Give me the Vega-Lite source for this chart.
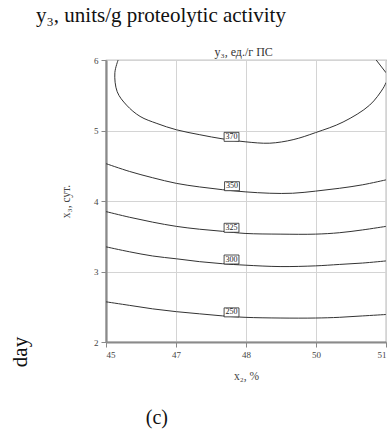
{
  "$schema": "https://vega.github.io/schema/vega-lite/v6.json",
  "width": 280,
  "height": 282,
  "autosize": {"type": "none"},
  "padding": {"left": 106, "top": 60, "right": 2, "bottom": 89},
  "background": "white",
  "config": {
    "view": {"stroke": "#8a8a8a", "strokeWidth": 1.2},
    "font": "Liberation Serif",
    "axis": {"labelFont": "Liberation Serif", "titleFont": "Liberation Serif", "titleFontWeight": "normal", "labelColor": "#444", "titleColor": "#444"}
  },
  "title": {
    "text": "y₃, units/g proteolytic activity",
    "anchor": "start",
    "frame": "group",
    "dx": -70,
    "offset": 20,
    "fontSize": 21,
    "fontWeight": "normal",
    "font": "Liberation Serif",
    "color": "#111"
  },
  "datasets": {
    "lines": [
      {"level": "370", "o": 1, "x2": 45.26, "x3": 6.0},
      {"level": "370", "o": 2, "x2": 45.19, "x3": 5.82},
      {"level": "370", "o": 3, "x2": 45.24, "x3": 5.55},
      {"level": "370", "o": 4, "x2": 45.44, "x3": 5.36},
      {"level": "370", "o": 5, "x2": 45.73, "x3": 5.2},
      {"level": "370", "o": 6, "x2": 46.09, "x3": 5.1},
      {"level": "370", "o": 7, "x2": 46.51, "x3": 5.01},
      {"level": "370", "o": 8, "x2": 47.01, "x3": 4.94},
      {"level": "370", "o": 9, "x2": 47.51, "x3": 4.88},
      {"level": "370", "o": 10, "x2": 47.98, "x3": 4.84},
      {"level": "370", "o": 11, "x2": 48.51, "x3": 4.82},
      {"level": "370", "o": 12, "x2": 49.01, "x3": 4.87},
      {"level": "370", "o": 13, "x2": 49.49, "x3": 4.97},
      {"level": "370", "o": 14, "x2": 50.08, "x3": 5.12},
      {"level": "370", "o": 15, "x2": 50.65, "x3": 5.36},
      {"level": "370", "o": 16, "x2": 50.94, "x3": 5.6},
      {"level": "370", "o": 17, "x2": 51.0, "x3": 5.68},
      {"level": "370b", "o": 1, "x2": 50.79, "x3": 6.0},
      {"level": "370b", "o": 2, "x2": 51.0, "x3": 5.82},
      {"level": "350", "o": 1, "x2": 45.0, "x3": 4.53},
      {"level": "350", "o": 2, "x2": 45.5, "x3": 4.42},
      {"level": "350", "o": 3, "x2": 46.0, "x3": 4.33},
      {"level": "350", "o": 4, "x2": 46.51, "x3": 4.25},
      {"level": "350", "o": 5, "x2": 47.0, "x3": 4.2},
      {"level": "350", "o": 6, "x2": 47.5, "x3": 4.16},
      {"level": "350", "o": 7, "x2": 47.98, "x3": 4.13},
      {"level": "350", "o": 8, "x2": 48.51, "x3": 4.11},
      {"level": "350", "o": 9, "x2": 49.0, "x3": 4.11},
      {"level": "350", "o": 10, "x2": 49.49, "x3": 4.14},
      {"level": "350", "o": 11, "x2": 50.0, "x3": 4.18},
      {"level": "350", "o": 12, "x2": 50.5, "x3": 4.23},
      {"level": "350", "o": 13, "x2": 51.0, "x3": 4.3},
      {"level": "325", "o": 1, "x2": 45.0, "x3": 3.85},
      {"level": "325", "o": 2, "x2": 45.5, "x3": 3.77},
      {"level": "325", "o": 3, "x2": 46.0, "x3": 3.7},
      {"level": "325", "o": 4, "x2": 46.51, "x3": 3.64},
      {"level": "325", "o": 5, "x2": 47.0, "x3": 3.6},
      {"level": "325", "o": 6, "x2": 47.5, "x3": 3.57},
      {"level": "325", "o": 7, "x2": 47.98, "x3": 3.54},
      {"level": "325", "o": 8, "x2": 48.73, "x3": 3.53},
      {"level": "325", "o": 9, "x2": 49.49, "x3": 3.53},
      {"level": "325", "o": 10, "x2": 50.0, "x3": 3.55},
      {"level": "325", "o": 11, "x2": 50.5, "x3": 3.59},
      {"level": "325", "o": 12, "x2": 51.0, "x3": 3.64},
      {"level": "300", "o": 1, "x2": 45.0, "x3": 3.35},
      {"level": "300", "o": 2, "x2": 45.5, "x3": 3.28},
      {"level": "300", "o": 3, "x2": 46.0, "x3": 3.22},
      {"level": "300", "o": 4, "x2": 46.51, "x3": 3.18},
      {"level": "300", "o": 5, "x2": 47.0, "x3": 3.14},
      {"level": "300", "o": 6, "x2": 47.5, "x3": 3.11},
      {"level": "300", "o": 7, "x2": 47.98, "x3": 3.09},
      {"level": "300", "o": 8, "x2": 48.73, "x3": 3.07},
      {"level": "300", "o": 9, "x2": 49.49, "x3": 3.08},
      {"level": "300", "o": 10, "x2": 50.0, "x3": 3.1},
      {"level": "300", "o": 11, "x2": 50.5, "x3": 3.12},
      {"level": "300", "o": 12, "x2": 51.0, "x3": 3.15},
      {"level": "250", "o": 1, "x2": 45.0, "x3": 2.57},
      {"level": "250", "o": 2, "x2": 45.5, "x3": 2.52},
      {"level": "250", "o": 3, "x2": 46.0, "x3": 2.47},
      {"level": "250", "o": 4, "x2": 46.51, "x3": 2.43},
      {"level": "250", "o": 5, "x2": 47.0, "x3": 2.4},
      {"level": "250", "o": 6, "x2": 47.5, "x3": 2.37},
      {"level": "250", "o": 7, "x2": 47.98, "x3": 2.35},
      {"level": "250", "o": 8, "x2": 48.73, "x3": 2.34},
      {"level": "250", "o": 9, "x2": 49.49, "x3": 2.34},
      {"level": "250", "o": 10, "x2": 50.0, "x3": 2.35},
      {"level": "250", "o": 11, "x2": 50.5, "x3": 2.37},
      {"level": "250", "o": 12, "x2": 51.0, "x3": 2.39}
    ],
    "labels": [
      {"level": "370", "x2": 47.69, "x3": 4.91},
      {"level": "350", "x2": 47.7, "x3": 4.21},
      {"level": "325", "x2": 47.69, "x3": 3.62},
      {"level": "300", "x2": 47.69, "x3": 3.17},
      {"level": "250", "x2": 47.69, "x3": 2.42}
    ],
    "notes": [
      {"note": "y₃, ед./г ПС", "kind": "plot", "x2": 47.95, "x3": 6.0},
      {"note": "day", "kind": "side", "x2": 43.18, "x3": 1.858},
      {"note": "(c)", "kind": "panel", "x2": 46.09, "x3": 0.92}
    ]
  },
  "encoding": {
    "x": {
      "field": "x2", "type": "quantitative",
      "scale": {"domain": [45, 51], "nice": false, "zero": false},
      "axis": {
        "orient": "bottom", "values": [45, 46.5, 48, 49.5, 51], "format": ".0f",
        "title": "x₂, %", "titleFontSize": 11.5, "titlePadding": 11,
        "labelFontSize": 9, "labelPadding": 3,
        "tickSize": 5, "tickColor": "#888",
        "domainColor": "#8a8a8a", "domainWidth": 2.2,
        "grid": true, "gridColor": "#d4d4d4", "gridWidth": 1
      }
    },
    "y": {
      "field": "x3", "type": "quantitative",
      "scale": {"domain": [2, 6], "nice": false, "zero": false},
      "axis": {
        "values": [2, 3, 4, 5, 6], "format": "d",
        "title": "x₃, сут.", "titleFontSize": 11.5, "titlePadding": 22,
        "labelFontSize": 9, "labelPadding": 3,
        "tickSize": 5, "tickColor": "#888",
        "domainColor": "#8a8a8a", "domainWidth": 2.2,
        "grid": true, "gridColor": "#d4d4d4", "gridWidth": 1
      }
    }
  },
  "layer": [
    {
      "data": {"name": "lines"},
      "mark": {"type": "line", "interpolate": "catmull-rom", "color": "#333", "strokeWidth": 1, "clip": true},
      "encoding": {
        "detail": {"field": "level"},
        "order": {"field": "o", "type": "quantitative"}
      }
    },
    {
      "data": {"name": "labels"},
      "mark": {"type": "point", "shape": "M-1.65,-1L1.65,-1L1.65,1L-1.65,1Z", "size": 81, "filled": true, "fill": "white", "stroke": "#222", "strokeWidth": 0.8, "opacity": 1}
    },
    {
      "data": {"name": "labels"},
      "mark": {"type": "text", "fontSize": 8, "font": "Liberation Serif", "color": "#222", "baseline": "middle", "align": "center"},
      "encoding": {
        "text": {"field": "level"}
      }
    },
    {
      "data": {"name": "notes"},
      "transform": [{"filter": "datum.kind === 'plot'"}],
      "mark": {"type": "text", "fontSize": 12, "font": "Liberation Serif", "color": "#333", "align": "center", "baseline": "alphabetic", "dy": -4},
      "encoding": {"text": {"field": "note"}}
    },
    {
      "data": {"name": "notes"},
      "transform": [{"filter": "datum.kind === 'side'"}],
      "mark": {"type": "text", "angle": 270, "fontSize": 21, "font": "Liberation Serif", "color": "#111", "align": "center", "baseline": "middle"},
      "encoding": {"text": {"field": "note"}}
    },
    {
      "data": {"name": "notes"},
      "transform": [{"filter": "datum.kind === 'panel'"}],
      "mark": {"type": "text", "fontSize": 20, "font": "Liberation Serif", "color": "#111", "align": "center", "baseline": "middle"},
      "encoding": {"text": {"field": "note"}}
    }
  ]
}
